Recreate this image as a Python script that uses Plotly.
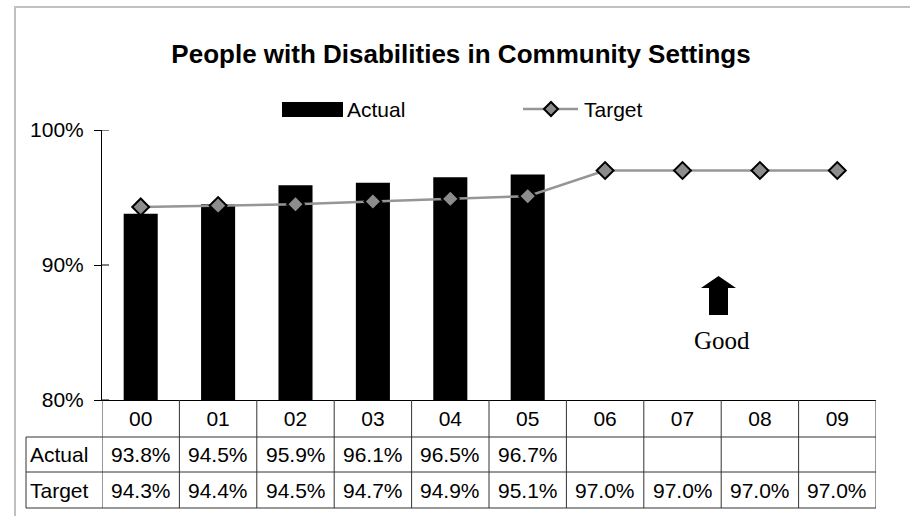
import plotly.graph_objects as go

categories = ["00", "01", "02", "03", "04", "05", "06", "07", "08", "09"]
actual = [0.938, 0.945, 0.959, 0.961, 0.965, 0.967, None, None, None, None]
target = [0.943, 0.944, 0.945, 0.947, 0.949, 0.951, 0.970, 0.970, 0.970, 0.970]
y_ticks = [0.80, 0.90, 1.00]
title_text = "People with Disabilities in Community Settings"

W, H = 910, 516
PX0, PX1, PY0, PY1 = 102, 876, 130, 400  # plot area in pixels


def px(x):
    return (x - PX0) / (PX1 - PX0)


def py(y):
    return (PY1 - y) / (PY1 - PY0)


FONT = "Arial, Liberation Sans, sans-serif"
FS = 21
n = len(categories)
idx = list(range(n))

fig = go.Figure()
fig.add_trace(go.Bar(
    x=idx, y=actual, width=0.44, marker=dict(color="black", line=dict(width=0)),
    name="Actual", showlegend=False, hoverinfo="y"))
fig.add_trace(go.Scatter(
    x=idx, y=target, mode="lines+markers", name="Target", showlegend=False,
    line=dict(color="#969696", width=2.5),
    marker=dict(symbol="diamond", size=13, color="#8c8c8c", line=dict(color="black", width=2))))

shapes = []
ann = []
# outer chart border
shapes.append(dict(type="rect", xref="paper", yref="paper", x0=px(15), x1=px(940), y0=py(7), y1=py(560),
                   line=dict(color="#c0c0c0", width=2), fillcolor="rgba(0,0,0,0)", layer="below"))
# inside halves of y ticks (ticks cross the axis)
for t in y_ticks:
    shapes.append(dict(type="line", xref="paper", yref="y", x0=0, x1=px(109), y0=t, y1=t,
                       line=dict(color="black", width=1)))
# table grid
line_style = dict(color="#333333", width=1)
for i in range(n + 1):
    shapes.append(dict(type="line", xref="x", yref="paper", x0=i - 0.5, x1=i - 0.5,
                       y0=py(400), y1=py(508), line=line_style))
for yy in (437, 472, 508):
    shapes.append(dict(type="line", xref="paper", yref="paper", x0=px(26), x1=1,
                       y0=py(yy), y1=py(yy), line=line_style))
shapes.append(dict(type="line", xref="paper", yref="paper", x0=px(26), x1=px(26),
                   y0=py(437), y1=py(508), line=line_style))

# table text
rows = [("Actual", actual, 454.5), ("Target", target, 490)]
for label, vals, yc in rows:
    ann.append(dict(text=label, xref="paper", yref="paper", x=px(28), y=py(yc), xanchor="left",
                    yanchor="middle", showarrow=False, font=dict(family=FONT, size=FS, color="black")))
    for i, v in enumerate(vals):
        if v is None:
            continue
        ann.append(dict(text=f"{v*100:.1f}%", xref="x", yref="paper", x=i, y=py(yc),
                        xanchor="center", yanchor="middle", showarrow=False,
                        font=dict(family=FONT, size=FS, color="black")))

# legend (drawn manually)
shapes.append(dict(type="rect", xref="paper", yref="paper", x0=px(282), x1=px(343), y0=py(102), y1=py(117),
                   fillcolor="black", line=dict(width=0)))
ann.append(dict(text="Actual", xref="paper", yref="paper", x=px(345), y=py(109.5), xanchor="left",
                yanchor="middle", showarrow=False, font=dict(family=FONT, size=FS, color="black")))
shapes.append(dict(type="line", xref="paper", yref="paper", x0=px(523), x1=px(578), y0=py(109), y1=py(109),
                   line=dict(color="#969696", width=2.5)))
shapes.append(dict(type="path", xref="paper", yref="paper",
                   path=f"M {px(544)},{py(109)} L {px(551)},{py(102)} L {px(558)},{py(109)} L {px(551)},{py(116)} Z",
                   fillcolor="#8c8c8c", line=dict(color="black", width=2)))
ann.append(dict(text="Target", xref="paper", yref="paper", x=px(582), y=py(109.5), xanchor="left",
                yanchor="middle", showarrow=False, font=dict(family=FONT, size=FS, color="black")))

# "Good" arrow
pts = [(709, 315), (728, 315), (728, 288), (736, 288), (718.5, 276), (701, 288), (709, 288)]
path = "M " + " L ".join(f"{px(a)},{py(b)}" for a, b in pts) + " Z"
shapes.append(dict(type="path", xref="paper", yref="paper", path=path, fillcolor="black", line=dict(width=0)))
ann.append(dict(text="Good", xref="paper", yref="paper", x=px(722), y=py(340), xanchor="center",
                yanchor="middle", showarrow=False,
                font=dict(family="Times New Roman, Liberation Serif, serif", size=25, color="black")))

fig.update_layout(
    width=W, height=H,
    margin=dict(l=PX0, r=W - PX1, t=PY0, b=H - PY1),
    paper_bgcolor="white", plot_bgcolor="white",
    title=dict(text=f"<b>{title_text}</b>", x=461 / W, xanchor="center", y=1 - 54 / H, yanchor="middle",
               yref="container", font=dict(family=FONT, size=26, color="black")),
    xaxis=dict(range=[-0.5, n - 0.5], tickmode="array", tickvals=idx, ticktext=categories,
               showline=True, linecolor="black", linewidth=1, ticks="", showgrid=False, zeroline=False,
               tickfont=dict(family=FONT, size=FS, color="black"), fixedrange=True),
    yaxis=dict(range=[0.80, 1.00], tickvals=y_ticks, tickformat=".0%", ticks="outside", ticklen=7,
               tickcolor="black", showline=True, linecolor="black", linewidth=1, showgrid=False,
               ticklabelstandoff=6,
               zeroline=False, tickfont=dict(family=FONT, size=FS, color="black"), fixedrange=True),
    shapes=shapes, annotations=ann, bargap=0.5,
)

fig.write_html("out.html", config={"displayModeBar": False},
               post_script="document.body.style.margin='0px';document.body.style.overflow='hidden';")
